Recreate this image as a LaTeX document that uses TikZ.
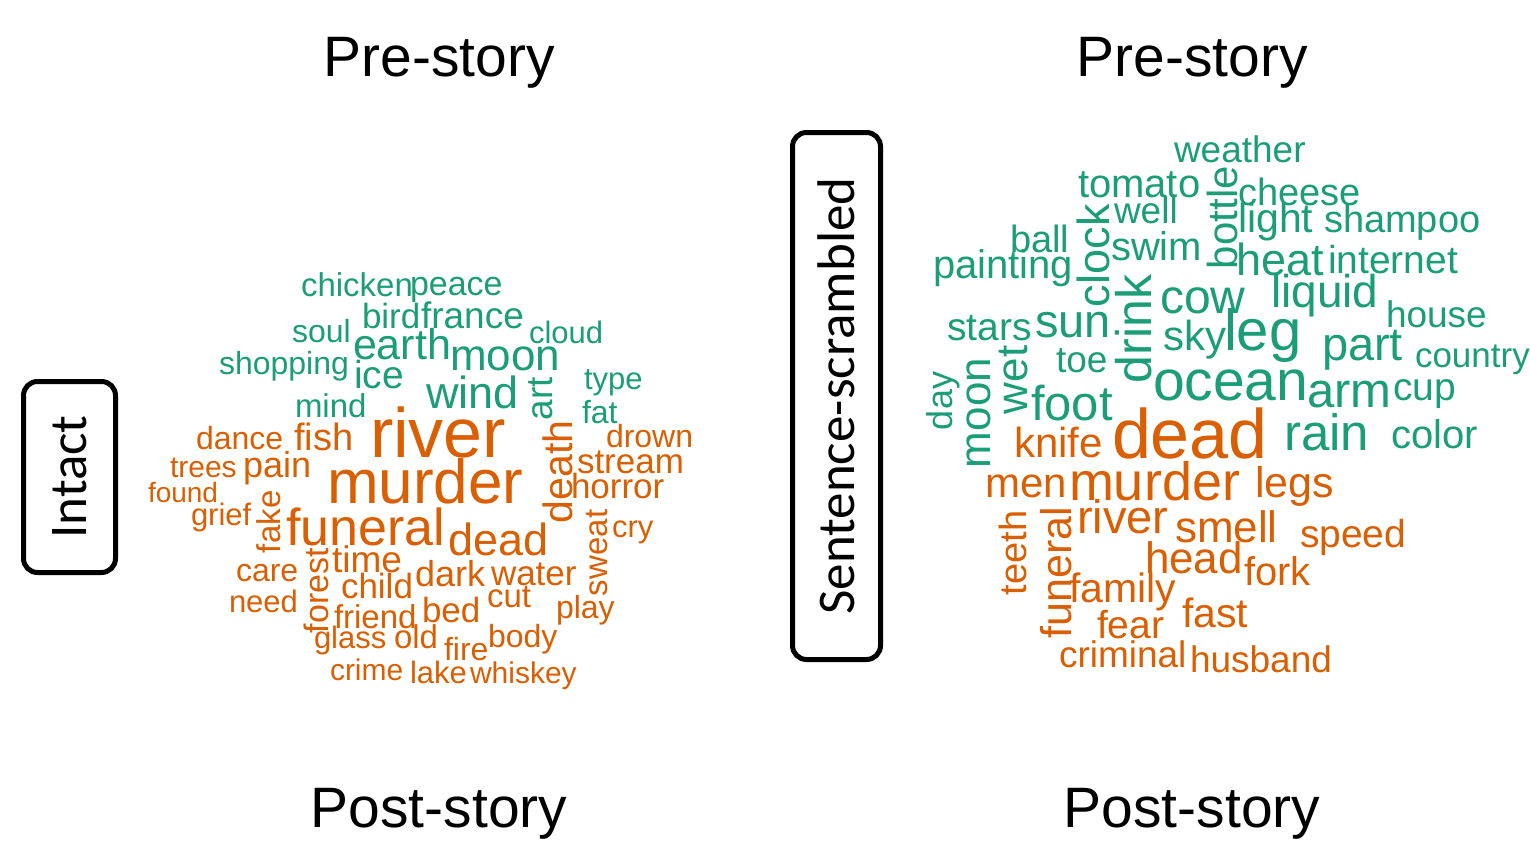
\documentclass[tikz,border=0pt]{standalone}
\usepackage{fontspec}
\usepackage{xcolor}
\setmainfont{Liberation Sans}
\newfontfamily\calfont{Carlito}
\definecolor{preGreen}{HTML}{1B9E77}
\definecolor{postOrange}{HTML}{D95F02}
\newcommand{\wsz}[1]{\fontsize{#1}{#1}\selectfont}
\tikzset{
  word/.style={inner sep=0pt, outer sep=0pt, anchor=base west},
  pre/.style={word, text=preGreen},
  post/.style={word, text=postOrange},
  vert/.style={rotate=90},
  cond/.style={draw, line width=5pt, rounded corners=14pt, rotate=90,
               inner sep=0pt, font=\calfont\wsz{53}},
  title/.style={anchor=base, inner sep=0pt, font=\wsz{57}},
}

\begin{document}
\begin{tikzpicture}[x=1pt, y=-1pt]
\useasboundingbox (0,0) rectangle (1530,843);

%% ── titles and conditions ────────────────────────────────────────────────
\node[title] (pre-l)  at (439,76)  {Pre-story};
\node[title] (pre-r)  at (1192,76) {Pre-story};
\node[title] (post-l) at (439,827) {Post-story};
\node[title] (post-r) at (1192,827) {Post-story};
\node[cond, minimum width=191pt, minimum height=92pt] (intact) at (69.5,477) {Intact};
\node[cond, minimum width=527pt, minimum height=88pt] (scram) at (836.5,396) {Sentence-scrambled};

%% ── intact: pre-story words ──────────────────────────────────────────────
\node[pre, font=\wsz{33}] (i-chicken) at (301,296) {chicken};
\node[pre, font=\wsz{34}] (i-peace) at (410,295) {peace};
\node[pre, font=\wsz{35}] (i-bird) at (362,328) {bird};
\node[pre, font=\wsz{37}] (i-france) at (421,328) {france};
\node[pre, font=\wsz{32}] (i-soul) at (292,342) {soul};
\node[pre, font=\wsz{31}] (i-cloud) at (529,343) {cloud};
\node[pre, font=\wsz{43}] (i-earth) at (353,359) {earth};
\node[pre, font=\wsz{44}] (i-moon) at (450,370) {moon};
\node[pre, font=\wsz{32}] (i-shopping) at (219,374) {shopping};
\node[pre, font=\wsz{39}] (i-ice) at (354,388) {ice};
\node[pre, font=\wsz{31}] (i-type) at (584,389) {type};
\node[pre, font=\wsz{45}] (i-wind) at (426,408) {wind};
\node[pre, vert, font=\wsz{37}] (i-art) at (552,420) {art};
\node[pre, font=\wsz{33}] (i-mind) at (295,417) {mind};
\node[pre, font=\wsz{32}] (i-fat) at (582,423) {fat};

%% ── intact: post-story words ─────────────────────────────────────────────
\node[post, font=\wsz{32}] (i-dance) at (196,449) {dance};
\node[post, font=\wsz{38}] (i-fish) at (294,450) {fish};
\node[post, font=\wsz{70}] (i-river) at (370,457) {river};
\node[post, font=\wsz{32}] (i-drown) at (606,447) {drown};
\node[post, font=\wsz{30}] (i-trees) at (170,477) {trees};
\node[post, font=\wsz{36}] (i-pain) at (243,477) {pain};
\node[post, font=\wsz{35}] (i-stream) at (577,473) {stream};
\node[post, font=\wsz{62}] (i-murder) at (327,503) {murder};
\node[post, vert, font=\wsz{41}] (i-death) at (572,523) {death};
\node[post, font=\wsz{28}] (i-found) at (148,502) {found};
\node[post, font=\wsz{35}] (i-horror) at (571,498) {horror};
\node[post, font=\wsz{31}] (i-grief) at (191,525) {grief};
\node[post, vert, font=\wsz{33}] (i-fake) at (280,553) {fake};
\node[post, font=\wsz{52}] (i-funeral) at (286,545) {funeral};
\node[post, vert, font=\wsz{33}] (i-sweat) at (607,596) {sweat};
\node[post, font=\wsz{31}] (i-cry) at (612,537) {cry};
\node[post, font=\wsz{45}] (i-dead) at (448,555) {dead};
\node[post, font=\wsz{32}] (i-care) at (236,581) {care};
\node[post, vert, font=\wsz{34}] (i-forest) at (328,633) {forest};
\node[post, font=\wsz{37}] (i-time) at (332,572) {time};
\node[post, font=\wsz{35}] (i-child) at (341,598) {child};
\node[post, font=\wsz{36}] (i-dark) at (415,586) {dark};
\node[post, font=\wsz{35}] (i-water) at (491,585) {water};
\node[post, font=\wsz{31}] (i-need) at (229,612) {need};
\node[post, font=\wsz{33}] (i-cut) at (487,607) {cut};
\node[post, font=\wsz{33}] (i-friend) at (334,628) {friend};
\node[post, font=\wsz{35}] (i-bed) at (422,622) {bed};
\node[post, font=\wsz{32}] (i-play) at (556,618) {play};
\node[post, font=\wsz{31}] (i-glass) at (314,648) {glass};
\node[post, font=\wsz{33}] (i-old) at (394,648) {old};
\node[post, font=\wsz{32}] (i-fire) at (444,660) {fire};
\node[post, font=\wsz{32}] (i-body) at (488,647) {body};
\node[post, font=\wsz{30}] (i-crime) at (330,680) {crime};
\node[post, font=\wsz{31}] (i-lake) at (410,683) {lake};
\node[post, font=\wsz{30}] (i-whiskey) at (470,683) {whiskey};

%% ── scrambled: pre-story words ───────────────────────────────────────────
\node[pre, font=\wsz{37}] (s-weather) at (1174,162) {weather};
\node[pre, font=\wsz{40}] (s-tomato) at (1078,197) {tomato};
\node[pre, vert, font=\wsz{42}] (s-bottle) at (1237,269) {bottle};
\node[pre, font=\wsz{38}] (s-cheese) at (1238,205) {cheese};
\node[pre, font=\wsz{37}] (s-well) at (1114,223) {well};
\node[pre, vert, font=\wsz{45}] (s-clock) at (1109,307) {clock};
\node[pre, font=\wsz{41}] (s-light) at (1238,232) {light};
\node[pre, font=\wsz{38}] (s-shampoo) at (1324,232) {shampoo};
\node[pre, font=\wsz{38}] (s-ball) at (1010,252) {ball};
\node[pre, font=\wsz{40}] (s-swim) at (1111,260) {swim};
\node[pre, font=\wsz{40}] (s-painting) at (933,278) {painting};
\node[pre, font=\wsz{45}] (s-heat) at (1236,275) {heat};
\node[pre, font=\wsz{39}] (s-internet) at (1328,273) {internet};
\node[pre, vert, font=\wsz{50}] (s-drink) at (1151,383) {drink};
\node[pre, font=\wsz{48}] (s-cow) at (1160,313) {cow};
\node[pre, font=\wsz{46}] (s-liquid) at (1271,307) {liquid};
\node[pre, font=\wsz{37}] (s-house) at (1386,327) {house};
\node[pre, font=\wsz{39}] (s-stars) at (947,340) {stars};
\node[pre, font=\wsz{47}] (s-sun) at (1035,337) {sun};
\node[pre, font=\wsz{42}] (s-sky) at (1163,350) {sky};
\node[pre, font=\wsz{58}] (s-leg) at (1224,350) {leg};
\node[pre, font=\wsz{37}] (s-toe) at (1056,372) {toe};
\node[pre, font=\wsz{47}] (s-part) at (1322,360) {part};
\node[pre, font=\wsz{35}] (s-country) at (1415,367) {country};
\node[pre, vert, font=\wsz{44}] (s-wet) at (1027,414) {wet};
\node[pre, vert, font=\wsz{44}] (s-moon) at (990,468) {moon};
\node[pre, vert, font=\wsz{36}] (s-day) at (952,430) {day};
\node[pre, font=\wsz{57}] (s-ocean) at (1153,400) {ocean};
\node[pre, font=\wsz{49}] (s-arm) at (1307,407) {arm};
\node[pre, font=\wsz{39}] (s-cup) at (1393,400) {cup};
\node[pre, font=\wsz{49}] (s-foot) at (1031,420) {foot};
\node[pre, font=\wsz{51}] (s-rain) at (1284,450) {rain};
\node[pre, font=\wsz{40}] (s-color) at (1391,448) {color};

%% ── scrambled: post-story words ──────────────────────────────────────────
\node[post, font=\wsz{70}] (s-dead) at (1112,458) {dead};
\node[post, font=\wsz{42}] (s-knife) at (1014,457) {knife};
\node[post, font=\wsz{42}] (s-men) at (985,497) {men};
\node[post, font=\wsz{54}] (s-murder) at (1069,500) {murder};
\node[post, font=\wsz{43}] (s-legs) at (1255,497) {legs};
\node[post, vert, font=\wsz{38}] (s-teeth) at (1026,595) {teeth};
\node[post, vert, font=\wsz{43}] (s-funeral) at (1071,638) {funeral};
\node[post, font=\wsz{47}] (s-river) at (1077,533) {river};
\node[post, font=\wsz{44}] (s-smell) at (1175,542) {smell};
\node[post, font=\wsz{39}] (s-speed) at (1300,547) {speed};
\node[post, font=\wsz{44}] (s-head) at (1145,573) {head};
\node[post, font=\wsz{40}] (s-fork) at (1244,585) {fork};
\node[post, font=\wsz{41}] (s-family) at (1069,602) {family};
\node[post, font=\wsz{41}] (s-fast) at (1182,627) {fast};
\node[post, font=\wsz{39}] (s-fear) at (1097,638) {fear};
\node[post, font=\wsz{37}] (s-criminal) at (1059,667) {criminal};
\node[post, font=\wsz{37}] (s-husband) at (1190,672) {husband};

\end{tikzpicture}
\end{document}
